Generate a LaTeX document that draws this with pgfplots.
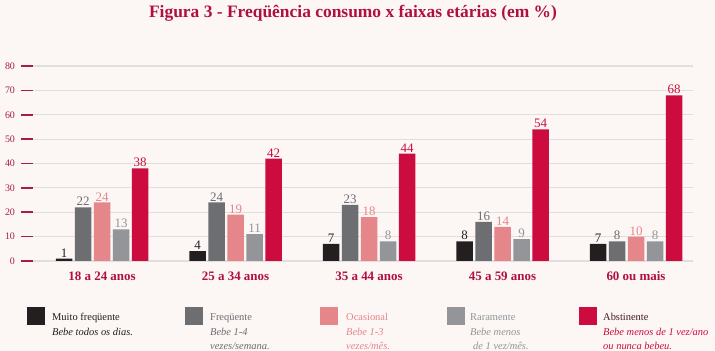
\documentclass[border=0pt]{standalone}
\usepackage{pgfplots}
\pgfplotsset{compat=1.18}
\usepackage{fontspec}
\setmainfont{Liberation Serif}
\definecolor{bgpink}{RGB}{252,246,245}
\definecolor{cA}{RGB}{35,31,32}
\definecolor{cB}{RGB}{109,110,113}
\definecolor{cC}{RGB}{229,135,138}
\definecolor{cD}{RGB}{147,149,152}
\definecolor{cE}{RGB}{204,12,62}
\definecolor{titlered}{RGB}{176,16,63}
\definecolor{tickred}{RGB}{165,30,70}
\definecolor{gridgray}{RGB}{226,222,222}
\begin{document}
\begin{tikzpicture}
\fill[bgpink] (0bp,0bp) rectangle (715bp,351bp);
\node[font=\bfseries\fontsize{17.5}{20}\selectfont, text=titlered] at (353bp,338bp) {Figura 3 - Freqüência consumo x faixas etárias (em \%)};
\begin{axis}[at={(33bp,90bp)}, anchor=south west, scale only axis,
  width=660bp, height=195bp,
  xmin=-0.517, xmax=4.427, ymin=0, ymax=80,
  ytick={0,10,...,80}, xtick={0,1,2,3,4},
  xticklabels={18 a 24 anos,25 a 34 anos,35 a 44 anos,45 a 59 anos,60 ou mais},
  ybar=2.5bp, bar width=16.5bp,
  axis line style={draw=none},
  ymajorgrids, grid style={gridgray, line width=1.2bp},
  ytick pos=left, tick align=outside, major tick length=12bp,
  ytick style={tickred, line width=1.6bp},
  xtick style={draw=none},
  yticklabel style={font=\fontsize{10}{11}\selectfont, text=tickred, xshift=-2.5bp},
  xticklabel style={font=\bfseries\fontsize{13}{15}\selectfont, text=titlered, yshift=5bp},
  /pgf/number format/assume math mode=true,
  clip=false,
  nodes near coords,
  nodes near coords style={font=\fontsize{13}{14}\selectfont, inner sep=1.2bp},
]
\addplot[fill=cA, draw=none, every node near coord/.append style={text=cA}] coordinates {(0,1) (1,4) (2,7) (3,8) (4,7)};
\addplot[fill=cB, draw=none, every node near coord/.append style={text=cB}] coordinates {(0,22) (1,24) (2,23) (3,16) (4,8)};
\addplot[fill=cC, draw=none, every node near coord/.append style={text=cC}] coordinates {(0,24) (1,19) (2,18) (3,14) (4,10)};
\addplot[fill=cD, draw=none, every node near coord/.append style={text=cD}] coordinates {(0,13) (1,11) (2,8) (3,9) (4,8)};
\addplot[fill=cE, draw=none, every node near coord/.append style={text=cE}] coordinates {(0,38) (1,42) (2,44) (3,54) (4,68)};
\end{axis}
% legend
\begin{scope}[x=1bp, y=1bp, every node/.style={anchor=base west, inner sep=0pt, font=\fontsize{10.5}{12}\selectfont}]
\fill[cA] (27,26) rectangle (45,44);
\node[text=cA] at (52,31) {Muito freqüente};
\node[text=cA, font=\itshape\fontsize{10.5}{12}\selectfont] at (52,16) {Bebe todos os dias.};
\fill[cB] (185,26) rectangle (203,44);
\node[text=cB] at (210,31) {Freqüente};
\node[text=cB, font=\itshape\fontsize{10.5}{12}\selectfont] at (210,16) {Bebe 1-4};
\node[text=cB, font=\itshape\fontsize{10.5}{12}\selectfont] at (210,2) {vezes/semana.};
\fill[cC] (320,26) rectangle (338,44);
\node[text=cC] at (346,31) {Ocasional};
\node[text=cC, font=\itshape\fontsize{10.5}{12}\selectfont] at (346,16) {Bebe 1-3};
\node[text=cC, font=\itshape\fontsize{10.5}{12}\selectfont] at (346,2) {vezes/mês.};
\fill[cD] (447,26) rectangle (465,44);
\node[text=cD] at (470,31) {Raramente};
\node[text=cD, font=\itshape\fontsize{10.5}{12}\selectfont] at (470,16) {Bebe menos};
\node[text=cD, font=\itshape\fontsize{10.5}{12}\selectfont] at (473,2) {de 1 vez/mês.};
\fill[cE] (579,26) rectangle (597,44);
\node[text=cA!80!cE] at (603,31) {Abstinente};
\node[text=cE, font=\itshape\fontsize{10.5}{12}\selectfont] at (603,16) {Bebe menos de 1 vez/ano};
\node[text=cE, font=\itshape\fontsize{10.5}{12}\selectfont] at (603,2) {ou nunca bebeu.};
\end{scope}
\end{tikzpicture}
\end{document}
